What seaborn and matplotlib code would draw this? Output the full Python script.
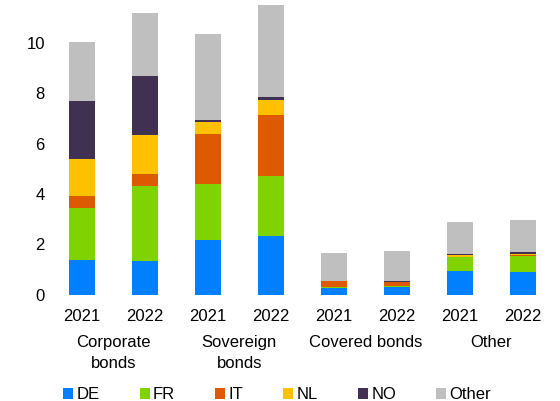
import matplotlib
matplotlib.use("Agg")
import matplotlib.pyplot as plt
import seaborn as sns
import pandas as pd
import numpy as np

groups = ["Corporate\nbonds", "Sovereign\nbonds", "Covered bonds", "Other"]
years = ["2021", "2022"]
countries = ["DE", "FR", "IT", "NL", "NO", "Other"]
colors = ["#0080FF", "#7ED300", "#DD5A00", "#FFC000", "#403152", "#BFBFBF"]

# values per bar, order: corp21, corp22, sov21, sov22, cov21, cov22, oth21, oth22
de = [1.36, 1.33, 2.18, 2.34, 0.26, 0.29, 0.93, 0.90]
fr = [2.07, 2.99, 2.23, 2.38, 0.05, 0.05, 0.55, 0.63]
it = [0.47, 0.49, 1.96, 2.41, 0.22, 0.16, 0.03, 0.04]
nl = [1.49, 1.55, 0.47, 0.62, 0.02, 0.02, 0.05, 0.06]
no = [2.32, 2.31, 0.09, 0.08, 0.01, 0.01, 0.05, 0.06]
other = [2.31, 2.52, 3.43, 3.67, 1.08, 1.19, 1.28, 1.27]

bars = [g + " " + y for g in groups for y in years]
df = pd.DataFrame({"bar": bars, "DE": de, "FR": fr, "IT": it,
                   "NL": nl, "NO": no, "Other": other})
cum = df[countries].cumsum(axis=1)

plt.rcParams["font.family"] = ["Liberation Sans", "DejaVu Sans"]
fig, ax = plt.subplots(figsize=(5.6, 4.01), dpi=100)

# stack by drawing cumulative totals from tallest to shortest
for c, col in reversed(list(zip(countries, colors))):
    sns.barplot(x=df["bar"], y=cum[c], color=col, width=0.4,
                saturation=1, ax=ax, label=c, order=bars)

ax.set_ylim(0, 11.7)
ax.set_xlim(-0.5, 7.5)
ax.set_yticks(range(0, 11, 2))
ax.set_xticks(range(8))
ax.set_xticklabels(years * 4)
ax.tick_params(axis="x", labelsize=12, length=0, pad=10)
ax.tick_params(axis="y", labelsize=12, length=0, pad=4)
ax.set_xlabel("")
ax.set_ylabel("")
for s in ax.spines.values():
    s.set_visible(False)

for i, g in enumerate(groups):
    ax.text(2 * i + 0.5, -1.6, g, ha="center", va="top", fontsize=12,
            transform=ax.transData, linespacing=1.5)

handles, labels = ax.get_legend_handles_labels()
order = [labels.index(c) for c in countries]
ax.legend([handles[i] for i in order], countries, loc="center",
          bbox_to_anchor=(0.45, -0.34), ncol=6, frameon=False, fontsize=12,
          handlelength=0.6, handleheight=0.6, handletextpad=0.2,
          columnspacing=2.4)

fig.subplots_adjust(left=0.09, right=0.99, top=1.0, bottom=0.265)
fig.savefig("out.png", dpi=100)
